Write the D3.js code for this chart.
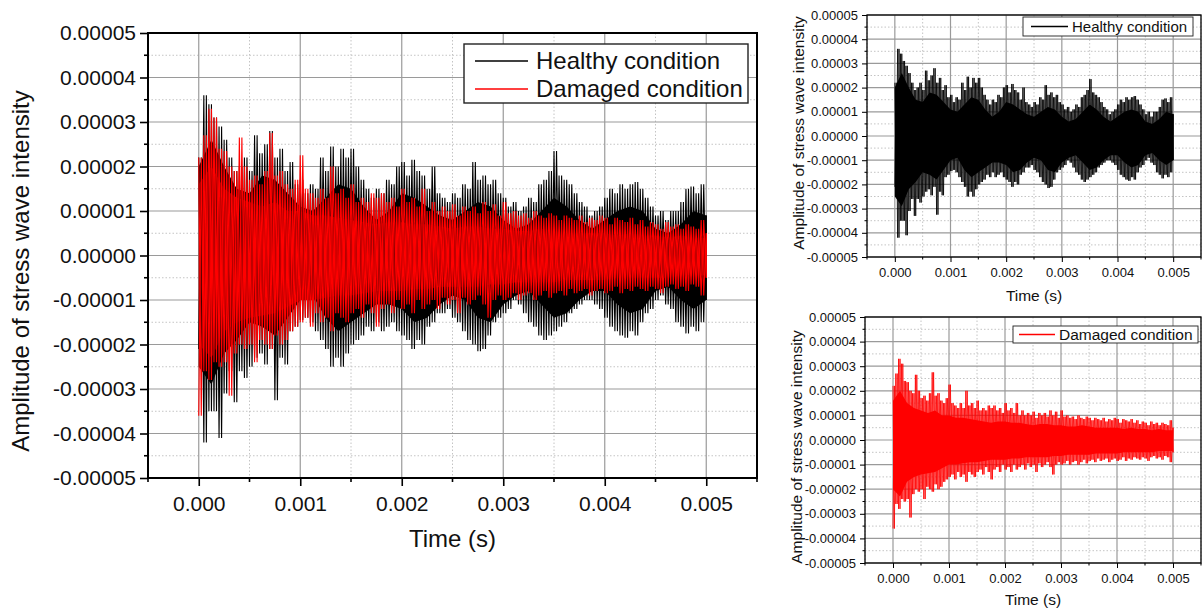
<!DOCTYPE html>
<html>
<head>
<meta charset="utf-8">
<script src="https://cdn.jsdelivr.net/npm/d3@7/dist/d3.min.js"></script>
<style>
  body { margin: 0; background: #fff; }
  svg { display: block; font-family: "Liberation Sans", Arial, sans-serif; }
</style>
</head>
<body>
<svg width="1203" height="609"></svg>
<script>
// amplitudes in units of 1e-5
// spikes: one peak + one trough per 0.00005 s
const unit = 1e-5;
const sampleStep = 0.00005;
// dense core band, read every 0.000125 s
const coreStep = 0.000125;

const healthyHigh = [2.2, 3.6, 3.4, 3.1, 2.9, 2.6, 2.2, 1.9, 2.0, 2.2,
    1.9, 2.7, 2.3, 2.5, 2.8, 2.2, 2.4, 1.9, 2.1, 1.6,
    1.7, 1.4, 1.6, 1.5, 2.2, 1.9, 2.45, 2.0, 2.4, 2.2,
    2.4, 2.0, 1.7, 1.5, 1.3, 1.5, 1.4, 1.7, 1.6, 2.0,
    2.1, 1.8, 2.15, 1.9, 1.8, 1.5, 2.0, 1.4, 1.3, 1.2,
    1.4, 1.3, 1.6, 1.5, 2.1, 1.7, 1.8, 1.6, 1.7, 1.4,
    1.3, 1.1, 1.2, 1.0, 1.1, 1.3, 1.2, 1.6, 1.7, 1.9,
    2.35, 1.8, 1.7, 1.6, 1.4, 1.2, 1.1, 0.9, 1.0, 1.1,
    1.3, 1.5, 1.4, 1.6, 1.5, 1.6, 1.65, 1.5, 1.3, 1.1,
    0.9, 1.0, 0.8, 1.0, 1.0, 1.2, 1.5, 1.55, 1.4, 1.6, 0.9];
const healthyLow = [-2.1, -4.2, -3.5, -3.5, -4.1, -3.1, -2.6, -3.3, -2.6, -2.75,
    -2.5, -2.3, -2.2, -2.45, -2.1, -3.25, -2.3, -2.45, -1.7, -1.6,
    -1.45, -1.4, -1.5, -1.7, -1.9, -2.1, -2.5, -2.3, -2.5, -2.2,
    -2.0, -1.9, -1.8, -1.6, -1.7, -1.5, -1.7, -1.6, -1.5, -1.7,
    -1.8, -1.9, -2.1, -1.9, -2.0, -1.6, -1.5, -1.3, -1.3, -1.2,
    -1.4, -1.5, -1.7, -1.9, -2.0, -2.15, -2.1, -1.8, -1.5, -1.4,
    -1.3, -1.2, -1.0, -1.1, -1.3, -1.5, -1.6, -1.8, -1.9, -1.8,
    -1.7, -1.6, -1.5, -1.3, -1.2, -1.1, -1.0, -1.0, -1.1, -1.2,
    -1.4, -1.6, -1.7, -1.8, -1.85, -1.7, -1.8, -1.5, -1.3, -1.2,
    -1.0, -0.9, -1.1, -1.2, -1.5, -1.6, -1.75, -1.6, -1.7, -1.5, -1.0];
const healthyCoreHigh = [2.0, 2.6, 2.0, 1.5, 1.4, 1.8, 1.7, 1.4, 1.1, 1.0,
    1.3, 1.6, 1.5, 1.1, 0.8, 1.0, 1.4, 1.3, 1.1, 0.9,
    0.8, 1.0, 1.2, 1.1, 0.8, 0.6, 0.7, 1.0, 1.3, 1.1,
    0.8, 0.6, 0.8, 1.0, 1.1, 1.0, 0.6, 0.5, 0.7, 1.0, 0.9];
const healthyCoreLow = [-2.5, -2.9, -2.2, -1.9, -1.5, -1.6, -1.8, -1.4, -1.0, -0.9,
    -1.4, -1.7, -1.5, -1.3, -1.1, -1.1, -1.2, -1.5, -1.4, -1.1,
    -0.9, -1.0, -1.4, -1.5, -1.1, -0.9, -0.8, -1.1, -1.4, -1.3,
    -1.0, -0.8, -0.8, -1.1, -1.3, -1.2, -0.8, -0.7, -1.0, -1.2, -1.0];

const damagedHigh = [2.2, 2.7, 3.3, 3.1, 2.4, 2.35, 2.0, 1.9, 2.65, 2.0,
    1.7, 1.8, 1.6, 1.9, 2.75, 1.8, 1.9, 1.6, 1.5, 1.7,
    2.25, 1.5, 1.4, 1.3, 1.5, 1.3, 2.0, 1.4, 1.5, 1.3,
    1.6, 1.2, 1.3, 1.2, 1.4, 1.3, 1.4, 1.2, 1.3, 1.1,
    1.5, 1.2, 1.3, 1.1, 1.5, 1.0, 1.2, 1.0, 1.1, 1.0,
    1.15, 0.9, 1.1, 1.0, 1.1, 0.95, 1.2, 1.0, 1.15, 0.9,
    1.2, 0.95, 1.0, 0.9, 0.95, 0.85, 1.0, 0.9, 0.85, 0.95,
    0.9, 0.8, 0.9, 0.85, 0.8, 0.9, 0.75, 0.85, 0.8, 0.9,
    0.85, 0.7, 0.85, 0.8, 0.75, 0.85, 0.7, 0.8, 0.65, 0.75,
    0.7, 0.6, 0.75, 0.65, 0.7, 0.6, 0.7, 0.65, 0.6, 0.8, 0.5];
const damagedLow = [-3.6, -2.6, -2.8, -2.4, -2.5, -2.4, -3.15, -2.2, -2.0, -2.1,
    -2.0, -2.4, -1.9, -2.0, -2.1, -1.8, -2.0, -1.9, -1.7, -1.6,
    -1.5, -1.4, -1.6, -1.3, -1.5, -1.4, -1.7, -1.3, -1.4, -1.5,
    -1.3, -1.2, -1.4, -1.1, -1.3, -1.6, -1.2, -1.1, -1.3, -1.0,
    -1.2, -1.1, -1.3, -1.0, -1.2, -1.1, -1.0, -1.2, -0.95, -1.1,
    -1.0, -1.3, -0.95, -1.1, -1.0, -0.9, -1.1, -1.4, -1.0, -0.9,
    -1.0, -0.95, -0.85, -1.0, -0.9, -0.85, -1.0, -0.9, -0.8, -0.95,
    -0.85, -0.8, -0.9, -0.75, -0.85, -0.8, -0.75, -0.9, -0.8, -0.75,
    -0.85, -0.8, -0.7, -0.85, -0.75, -0.8, -0.7, -0.75, -0.8, -0.7,
    -0.75, -0.85, -0.7, -0.65, -0.75, -0.7, -0.8, -0.65, -0.7, -0.9, -0.5];
const damagedCoreHigh = [1.6, 2.0, 1.5, 1.3, 1.2, 1.1, 1.2, 1.0, 1.0, 0.9,
    0.9, 0.85, 0.8, 0.75, 0.7, 0.75, 0.75, 0.7, 0.7, 0.65,
    0.6, 0.65, 0.65, 0.6, 0.6, 0.55, 0.55, 0.6, 0.55, 0.5,
    0.5, 0.5, 0.5, 0.45, 0.5, 0.45, 0.45, 0.4, 0.45, 0.4, 0.4];
const damagedCoreLow = [-2.0, -2.3, -1.7, -1.5, -1.4, -1.35, -1.3, -1.15, -1.0, -1.0,
    -0.95, -0.9, -0.9, -0.85, -0.8, -0.8, -0.8, -0.75, -0.75, -0.7,
    -0.7, -0.7, -0.7, -0.65, -0.65, -0.6, -0.6, -0.6, -0.6, -0.55,
    -0.55, -0.55, -0.55, -0.5, -0.5, -0.5, -0.5, -0.5, -0.45, -0.45, -0.45];

const xTicks = [0, 0.001, 0.002, 0.003, 0.004, 0.005];
const yTicks = [-5, -4, -3, -2, -1, 0, 1, 2, 3, 4, 5];
const seriesNames = ["Healthy condition", "Damaged condition"];
const seriesColors = ["#000000", "#ff0000"];

const svg = d3.select("svg");
const tMax = (healthyHigh.length - 1) * sampleStep;

// peak/trough pairs as a polyline; phase 1 starts on the trough so both passes interleave
function zigzag(high, low, phase) {
    const pts = [];
    high.forEach(function(h, i) {
        const t = i * sampleStep;
        const a = [t, (phase ? low[i] : h) * unit];
        const b = [Math.min(t + sampleStep / 2, tMax), (phase ? h : low[i]) * unit];
        pts.push(a, b);
    });
    return pts;
}
function core(high, low) {
    return high.map((h, i) => ({t: i * coreStep, hi: h * unit, lo: low[i] * unit}));
}

const series = [
    {name: seriesNames[0], color: seriesColors[0],
        spikes: [zigzag(healthyHigh, healthyLow, 0), zigzag(healthyHigh, healthyLow, 1)],
        core: core(healthyCoreHigh, healthyCoreLow)},
    {name: seriesNames[1], color: seriesColors[1],
        spikes: [zigzag(damagedHigh, damagedLow, 0), zigzag(damagedHigh, damagedLow, 1)],
        core: core(damagedCoreHigh, damagedCoreLow)}
];

const fmtY = d => d3.format(".5f")(d).replace("\u2212", "-");
const fmtX = d3.format(".3f");

function drawPanel(p) {
    const g = svg.append("g");
    const x = d3.scaleLinear().domain([-0.0005, 0.0055]).range([p.left, p.right]);
    const y = d3.scaleLinear().domain([-5e-5, 5e-5]).range([p.bottom, p.top]);
    const yVals = yTicks.map(v => v * unit);
    const yMinor = d3.range(-4.5, 5, 1).map(v => v * unit);
    const xMinor = d3.range(-0.0005, 0.0055 + 1e-9, 0.001);

    // grid
    g.selectAll(".gminx").data(xMinor).join("line")
        .attr("x1", d => x(d)).attr("x2", d => x(d))
        .attr("y1", p.top).attr("y2", p.bottom)
        .attr("stroke", "#c4c4c4").attr("stroke-width", 1).attr("stroke-dasharray", "1.5,2");
    g.selectAll(".gminy").data(yMinor).join("line")
        .attr("x1", p.left).attr("x2", p.right)
        .attr("y1", d => y(d)).attr("y2", d => y(d))
        .attr("stroke", "#c4c4c4").attr("stroke-width", 1).attr("stroke-dasharray", "1.5,2");
    g.selectAll(".gx").data(xTicks).join("line")
        .attr("x1", d => x(d)).attr("x2", d => x(d))
        .attr("y1", p.top).attr("y2", p.bottom)
        .attr("stroke", "#9a9a9a").attr("stroke-width", 1.2);
    g.selectAll(".gy").data(yVals).join("line")
        .attr("x1", p.left).attr("x2", p.right)
        .attr("y1", d => y(d)).attr("y2", d => y(d))
        .attr("stroke", "#9a9a9a").attr("stroke-width", 1.2);

    // signals: cores first, then the spikes of each series on top
    const clipId = "clip" + p.id;
    svg.append("clipPath").attr("id", clipId).append("rect")
        .attr("x", p.left).attr("y", p.top)
        .attr("width", p.right - p.left).attr("height", p.bottom - p.top);
    const plot = g.append("g").attr("clip-path", "url(#" + clipId + ")");
    const line = d3.line().x(d => x(d[0])).y(d => y(d[1]));
    const area = d3.area().x(d => x(d.t)).y0(d => y(d.lo)).y1(d => y(d.hi));
    p.series.forEach(function(s) {
        plot.append("path").datum(s.core).attr("fill", s.color).attr("d", area);
    });
    p.series.forEach(function(s) {
        s.spikes.forEach(function(pts) {
            plot.append("path").datum(pts)
                .attr("fill", "none").attr("stroke", s.color)
                .attr("stroke-width", p.lineWidth).attr("d", line);
        });
    });

    // frame
    g.append("rect").attr("x", p.left).attr("y", p.top)
        .attr("width", p.right - p.left).attr("height", p.bottom - p.top)
        .attr("fill", "none").attr("stroke", "#000").attr("stroke-width", p.frameWidth);

    // axes
    const yAxis = d3.axisLeft(y).tickValues(yVals).tickFormat(fmtY)
        .tickSize(p.tick).tickPadding(p.pad);
    const yAx = g.append("g").attr("transform", "translate(" + p.left + ",0)").call(yAxis);
    const xAxis = d3.axisBottom(x).tickValues(xTicks).tickFormat(fmtX)
        .tickSize(p.tick).tickPadding(p.xpad);
    const xAx = g.append("g").attr("transform", "translate(0," + p.bottom + ")").call(xAxis);
    [yAx, xAx].forEach(function(a) {
        a.select(".domain").remove();
        a.selectAll("line").attr("stroke", "#000").attr("stroke-width", p.frameWidth * 0.8);
        a.selectAll("text").attr("font-size", p.tickFont).attr("fill", "#111")
            .attr("font-family", "Liberation Sans, Arial, sans-serif");
    });
    g.selectAll(".myt").data(yMinor).join("line")
        .attr("x1", p.left - p.tick / 2).attr("x2", p.left)
        .attr("y1", d => y(d)).attr("y2", d => y(d))
        .attr("stroke", "#000").attr("stroke-width", p.frameWidth * 0.8);
    g.selectAll(".mxt").data(xMinor).join("line")
        .attr("x1", d => x(d)).attr("x2", d => x(d))
        .attr("y1", p.bottom).attr("y2", p.bottom + p.tick / 2)
        .attr("stroke", "#000").attr("stroke-width", p.frameWidth * 0.8);

    // titles
    g.append("text").attr("x", (p.left + p.right) / 2).attr("y", p.xTitleY)
        .attr("text-anchor", "middle").attr("font-size", p.titleFont).attr("fill", "#111")
        .text("Time (s)");
    g.append("text")
        .attr("transform", "translate(" + p.yTitleX + "," + p.yTitleMid + ") rotate(-90)")
        .attr("text-anchor", "middle").attr("font-size", p.titleFont).attr("fill", "#111")
        .text("Amplitude of stress wave intensity");

    // legend
    const L = p.legend;
    const lg = g.append("g");
    lg.append("rect").attr("x", L.x).attr("y", L.y).attr("width", L.w).attr("height", L.h)
        .attr("fill", "#fff").attr("stroke", "#222").attr("stroke-width", p.frameWidth * 0.7);
    p.series.forEach(function(s, i) {
        const cy = L.y + L.firstRow + i * L.rowGap;
        lg.append("line").attr("x1", L.x + L.lineStart).attr("x2", L.x + L.lineEnd)
            .attr("y1", cy).attr("y2", cy).attr("stroke", s.color).attr("stroke-width", 1.3);
        lg.append("text").attr("x", L.x + L.textStart).attr("y", cy)
            .attr("dy", "0.35em").attr("font-size", L.font).attr("fill", "#111")
            .text(s.name);
    });
}

drawPanel({
    id: "main", left: 148, right: 757, top: 33, bottom: 478,
    series: series, lineWidth: 1.1, frameWidth: 2,
    tick: 8, pad: 4, xpad: 10, tickFont: 21, titleFont: 24,
    xTitleY: 547, yTitleX: 29, yTitleMid: 271,
    legend: {x: 464, y: 44, w: 284, h: 59, firstRow: 17, rowGap: 28,
        lineStart: 11, lineEnd: 64, textStart: 72, font: 24}
});

drawPanel({
    id: "healthy", left: 867, right: 1201, top: 15, bottom: 257,
    series: [series[0]], lineWidth: 0.8, frameWidth: 1.3,
    tick: 5, pad: 4, xpad: 6, tickFont: 13, titleFont: 15.5,
    xTitleY: 301, yTitleX: 804, yTitleMid: 133,
    legend: {x: 1023, y: 17, w: 170, h: 19, firstRow: 9.5, rowGap: 0,
        lineStart: 8, lineEnd: 45, textStart: 49, font: 15}
});

drawPanel({
    id: "damaged", left: 865, right: 1201, top: 317, bottom: 563,
    series: [series[1]], lineWidth: 0.8, frameWidth: 1.3,
    tick: 5, pad: 4, xpad: 6, tickFont: 13, titleFont: 15.5,
    xTitleY: 605, yTitleX: 802, yTitleMid: 447,
    legend: {x: 1013, y: 326, w: 185, h: 17, firstRow: 8.5, rowGap: 0,
        lineStart: 6, lineEnd: 42, textStart: 46, font: 15.5}
});
</script>
</body>
</html>
